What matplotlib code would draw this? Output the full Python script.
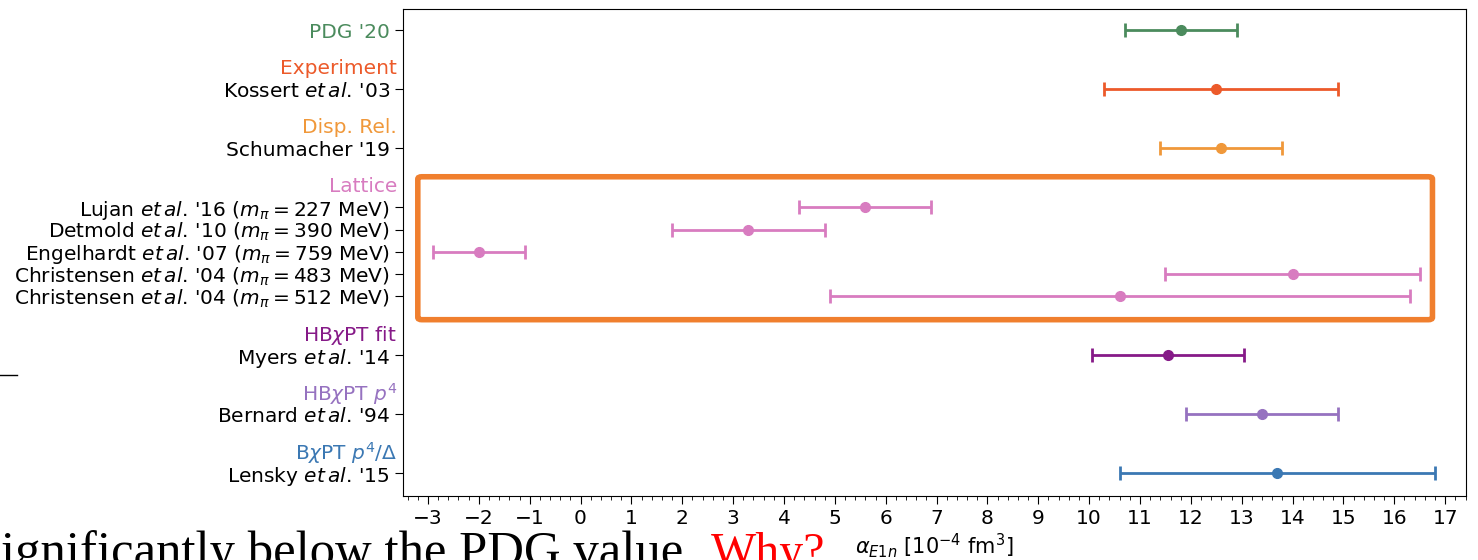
import numpy as np
import matplotlib.pyplot as plt
from matplotlib.patches import FancyBboxPatch
from matplotlib.lines import Line2D
from matplotlib.transforms import blended_transform_factory

# entries, bottom to top
labels = [r"Lensky $et\,al$. '15",
          r"Bernard $et\,al$. '94",
          r"Myers $et\,al$. '14",
          r"Christensen $et\,al$. '04 ($m_\pi = 512$ MeV)",
          r"Christensen $et\,al$. '04 ($m_\pi = 483$ MeV)",
          r"Engelhardt $et\,al$. '07 ($m_\pi = 759$ MeV)",
          r"Detmold $et\,al$. '10 ($m_\pi = 390$ MeV)",
          r"Lujan $et\,al$. '16 ($m_\pi = 227$ MeV)",
          "Schumacher '19",
          r"Kossert $et\,al$. '03",
          "PDG '20"]
centres = [13.7, 13.4, 11.55, 10.6, 14.0, -2.0, 3.3, 5.6, 12.6, 12.5, 11.8]
err_lo = [3.1, 1.5, 1.5, 5.7, 2.5, 0.9, 1.5, 1.3, 1.2, 2.2, 1.1]
err_hi = [3.1, 1.5, 1.5, 5.7, 2.5, 0.9, 1.5, 1.3, 1.2, 2.4, 1.1]
ypos = [0, 1, 2, 3, 3.375, 3.75, 4.125, 4.5, 5.5, 6.5, 7.5]

c_bxpt = '#3b78b3'
c_hbp4 = '#9672c0'
c_hbfit = '#861a88'
c_latt = '#d87cc0'
c_disp = '#f0983a'
c_exp = '#ec5a2a'
c_pdg = '#4b8b5d'
colours = [c_bxpt, c_hbp4, c_hbfit, c_latt, c_latt, c_latt, c_latt, c_latt,
           c_disp, c_exp, c_pdg]

# group headers: text, y of the first entry, colour
group_names = [r"B$\chi$PT $p^4/\Delta$", r"HB$\chi$PT $p^4$", r"HB$\chi$PT fit",
               "Lattice", "Disp. Rel.", "Experiment"]
group_y = [0, 1, 2, 4.5, 5.5, 6.5]
group_col = [c_bxpt, c_hbp4, c_hbfit, c_latt, c_disp, c_exp]

plt.rcParams['font.size'] = 14.5
plt.rcParams['mathtext.fontset'] = 'dejavusans'

fig = plt.figure(figsize=(14.78, 5.6), dpi=100)
ax = fig.add_axes([0.2727, 0.1143, 0.7192, 0.8696])

for i in range(len(centres)):
    ax.errorbar(centres[i], ypos[i], xerr=[[err_lo[i]], [err_hi[i]]], fmt='o',
                color=colours[i], ms=7, lw=2, capsize=5, capthick=2)

ax.set_yticks(ypos)
ax.set_yticklabels(labels)
ax.get_yticklabels()[-1].set_color(c_pdg)
ax.set_xlim(-3.49, 17.41)
ax.set_ylim(-0.385, 7.86)
ax.set_xticks(np.arange(-3, 18, 1))
ax.set_xticks(np.arange(-3.4, 17.41, 0.2), minor=True)
ax.tick_params(axis='x', which='minor', length=3)
ax.tick_params(which='major', length=6)
ax.set_xlabel(r"$\alpha_{E1n}$ [$10^{-4}$ fm$^3$]", fontsize=15, labelpad=2)

trans = blended_transform_factory(ax.transAxes, ax.transData)
for name, y, col in zip(group_names, group_y, group_col):
    ax.annotate(name, xy=(0, y), xycoords=trans, xytext=(-6, 23),
                textcoords='offset pixels', ha='right', va='center_baseline',
                color=col, fontsize=14.5, annotation_clip=False)

# orange highlight box round the lattice results
box = FancyBboxPatch((-3.2, 2.6), 19.95, 2.42, boxstyle='round,pad=0,rounding_size=0.08',
                     fill=False, ec='#f07f2e', lw=4, clip_on=False, zorder=5,
                     mutation_aspect=0.5)
ax.add_patch(box)

# slide text underneath
fig.text(696 / 1478, -6 / 560, "significantly below the PDG value.", ha='right',
         va='baseline', family='Liberation Serif', fontsize=36.5, color='black')
fig.text(711 / 1478, -6 / 560, "Why?", ha='left', va='baseline',
         family='Liberation Serif', fontsize=34.5, color='red')
fig.add_artist(Line2D([0, 17 / 1478], [1 - 375 / 560] * 2, color='black', lw=1))

fig.savefig('out.png', dpi=100)
